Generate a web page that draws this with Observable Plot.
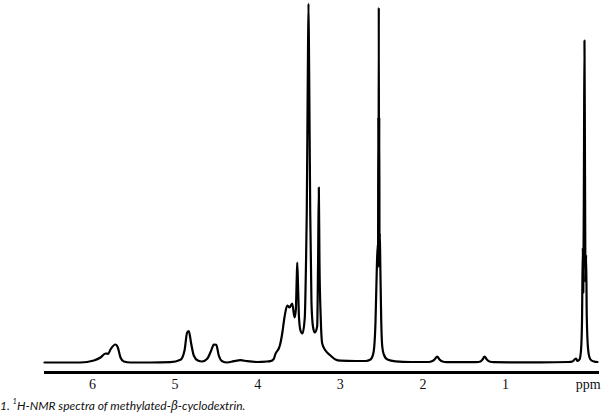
<!DOCTYPE html>
<html>
<head>
<meta charset="utf-8">
<script src="https://cdn.jsdelivr.net/npm/d3@7"></script>
<script src="https://cdn.jsdelivr.net/npm/@observablehq/plot@0.6"></script>
<style>
  html, body { margin: 0; padding: 0; background: #fff; }
  #chart svg { display: block; }
  #caption { font: italic 12px Lato, "Open Sans", sans-serif; height: 16px; line-height: 16px; white-space: nowrap; color: #111; margin-left: 0; }
  #caption sup { font-size: 7.5px; vertical-align: top; line-height: 8px; }
</style>
</head>
<body>
<div id="chart"></div>
<div id="caption">1. <sup>1</sup>H-NMR spectra of methylated-<span style="font-family:'DejaVu Serif',serif">β</span>-cyclodextrin.</div>
<script>
// chemical shift (ppm) and intensity
const shift = [
  6.581, 6.145, 5.984, 5.903, 5.843, 5.810, 5.782, 5.722, 5.694, 5.661, 5.621, 5.540,
  5.298, 5.056, 4.935, 4.886, 4.854, 4.834, 4.805, 4.774, 4.725, 4.672,
  4.611, 4.563, 4.531, 4.502, 4.471, 4.430, 4.369, 4.289, 4.208, 4.127, 4.006, 3.885,
  3.845, 3.805, 3.785, 3.745, 3.732, 3.703, 3.676, 3.643, 3.615, 3.582, 3.554, 3.539,
  3.527, 3.521, 3.511, 3.500, 3.482, 3.458, 3.430, 3.415, 3.406, 3.393, 3.385, 3.377,
  3.364, 3.349, 3.331, 3.309, 3.280, 3.269, 3.260, 3.252, 3.237, 3.219, 3.179, 3.119,
  3.058, 2.998, 2.816, 2.695, 2.634, 2.598, 2.574, 2.556, 2.546, 2.543, 2.540, 2.537,
  2.534, 2.531, 2.528, 2.525, 2.522, 2.516, 2.504, 2.492, 2.473, 2.429, 2.332, 2.150,
  1.932, 1.884, 1.854, 1.827, 1.799, 1.763, 1.714, 1.545, 1.351, 1.303, 1.278, 1.254,
  1.226, 1.194, 1.145, 0.939, 0.576, 0.237, 0.189, 0.165, 0.146, 0.128, 0.104, 0.086,
  0.074, 0.064, 0.058, 0.050, 0.044, 0.038, 0.031, 0.024, 0.016, 0.001, -0.017, -0.041,
  -0.077, -0.114
];
const intensity = [
  0, 0, 2, 5, 9, 8.7, 13, 18, 15.3, 5, 1, 0,
  0, 0.3, 2.7, 12, 30, 31.3, 18.7, 7, 2, 1,
  3.7, 12, 18, 17.7, 7, 1.3, 0, 1.3, 2.3, 1.3, 0.5, 1,
  1.3, 3.7, 8.7, 14, 17, 29, 45, 57, 55, 59, 45, 52,
  85, 100, 75, 45, 32, 29, 45, 100, 150, 290, 359, 290,
  150, 60, 36, 30, 36, 100, 175, 100, 45, 19, 12, 7,
  3, 1.8, 1.5, 1.5, 3, 10, 40, 100, 118, 95, 245, 110,
  355, 110, 245, 95, 129, 100, 40, 16, 8, 3, 1.2, 0.5,
  0.5, 1.5, 3.5, 6, 3, 1, 0.3, 0.3, 0.3, 1, 3, 6,
  3, 1, 0.3, 0.2, 0.2, 0.5, 1, 3, 4, 1.5, 3, 12,
  40, 115, 70, 200, 322, 200, 80, 108, 45, 14, 5, 2,
  0.8, 0.5
];
const tickValues = [6, 5, 4, 3, 2, 1, 0];
const tickLabels = ["6", "5", "4", "3", "2", "1", "ppm"];
const xDomain = [6.581, -0.138];
const yDomain = [-10, 359];

const spectrum = shift.map((s, i) => ({ppm: s, value: intensity[i]}));
const labelOf = new Map(tickValues.map((t, i) => [t, tickLabels[i]]));

const chart = Plot.plot({
  width: 604,
  height: 398,
  marginLeft: 44,
  marginRight: 5,
  marginTop: 3,
  marginBottom: 26,
  style: {color: "#000", background: "#fff"},
  x: {domain: xDomain, label: null, axis: null},
  y: {domain: yDomain, axis: null},
  marks: [
    Plot.ruleY([yDomain[0]], {stroke: "#000", strokeWidth: 3}),
    Plot.axisX(tickValues, {
      tickFormat: d => labelOf.get(d), tickSize: 0, tickPadding: 7,
      fontFamily: "Liberation Serif", fontSize: 14, fill: "#111", label: null
    }),
    Plot.line(spectrum, {x: "ppm", y: "value", stroke: "#000", strokeWidth: 2.2, curve: "monotone-x", strokeLinejoin: "round"})
  ]
});
document.getElementById("chart").appendChild(chart);
</script>
</body>
</html>
